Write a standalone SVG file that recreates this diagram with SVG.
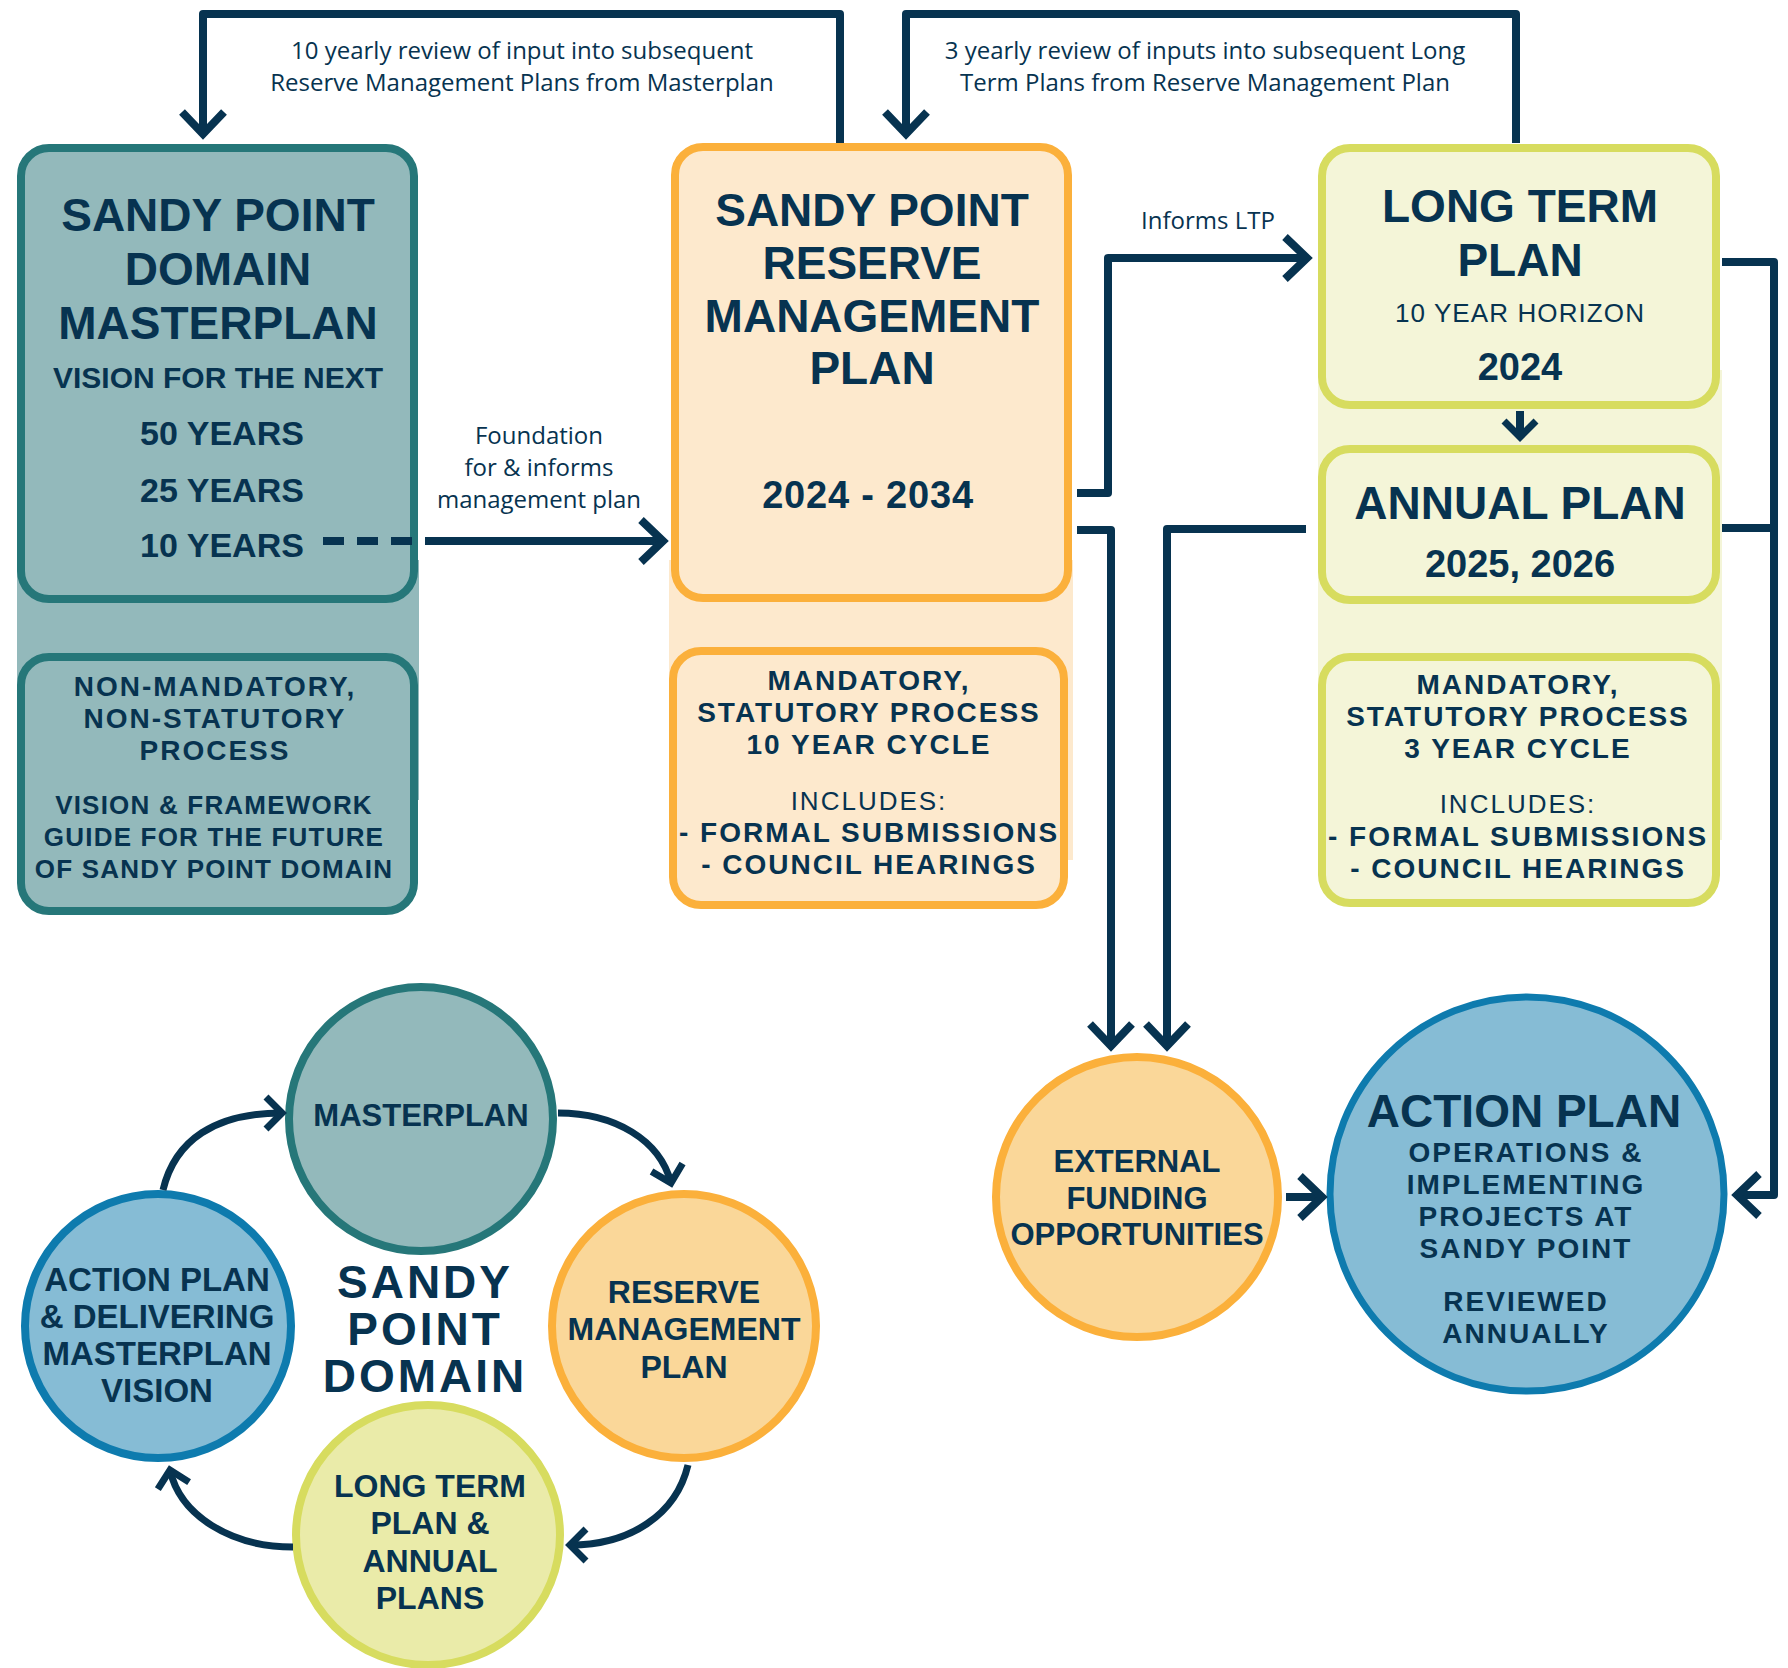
<svg xmlns="http://www.w3.org/2000/svg" width="1788" height="1668" viewBox="0 0 1788 1668">
<style>
text{fill:#073350;text-anchor:middle;font-family:"Liberation Sans",Arial,sans-serif}
.h{font-weight:bold;font-size:46px}
.sub{font-weight:bold}
.sm{font-weight:bold;font-size:28px;letter-spacing:2px}
.rg{font-weight:normal}
.lbl{font-family:"Open Sans","Liberation Sans",sans-serif;font-size:24px}
.con{fill:none;stroke:#073350;stroke-width:8;stroke-linejoin:round}
.arc{fill:none;stroke:#073350;stroke-width:7}
.tealB{fill:#93B9BB;stroke:#267779;stroke-width:8}
.oraB{fill:#FDE9CD;stroke:#FBB03B;stroke-width:8}
.grnB{fill:#F4F5D8;stroke:#D7DC5F;stroke-width:8}
</style>
<defs>
<marker id="ah" markerUnits="userSpaceOnUse" viewBox="-30 -30 60 60" markerWidth="60" markerHeight="60" refX="0" refY="0" orient="auto" overflow="visible">
<path d="M-22,-21 L0,0 L-22,21" fill="none" stroke="#073350" stroke-width="8"/>
</marker>
<marker id="ahs" markerUnits="userSpaceOnUse" viewBox="-30 -30 60 60" markerWidth="60" markerHeight="60" refX="0" refY="0" orient="auto" overflow="visible">
<path d="M-16,-16 L0,0 L-16,16" fill="none" stroke="#073350" stroke-width="7"/>
</marker>
</defs>

<!-- background columns -->
<rect x="17" y="560" width="402" height="240" fill="#93B9BB"/>
<rect x="669" y="560" width="404" height="300" fill="#FDE9CD"/>
<rect x="1318" y="370" width="404" height="470" fill="#F4F5D8"/>

<g id="masterplan-box">
<rect class="tealB" x="21" y="148" width="393" height="451" rx="28"/>
<text class="h" x="218" y="231">SANDY POINT</text>
<text class="h" x="218" y="285">DOMAIN</text>
<text class="h" x="218" y="339">MASTERPLAN</text>
<text class="sub" x="218" y="388" font-size="30">VISION FOR THE NEXT</text>
<text class="sub" x="222" y="445" font-size="34">50 YEARS</text>
<text class="sub" x="222" y="502" font-size="34">25 YEARS</text>
<text class="sub" x="222" y="557" font-size="34">10 YEARS</text>
</g>

<g id="masterplan-process">
<rect class="tealB" x="21" y="657" width="393" height="254" rx="28"/>
<text class="sm" x="215" y="696">NON-MANDATORY,</text>
<text class="sm" x="215" y="728">NON-STATUTORY</text>
<text class="sm" x="215" y="760">PROCESS</text>
<text class="sub" x="214" y="814" font-size="26" letter-spacing="1.2">VISION &amp; FRAMEWORK</text>
<text class="sub" x="214" y="846" font-size="26" letter-spacing="1.2">GUIDE FOR THE FUTURE</text>
<text class="sub" x="214" y="878" font-size="26" letter-spacing="1.2">OF SANDY POINT DOMAIN</text>
</g>

<g id="rmp-box">
<rect class="oraB" x="675" y="147" width="393" height="451" rx="28"/>
<text class="h" x="872" y="226">SANDY POINT</text>
<text class="h" x="872" y="279">RESERVE</text>
<text class="h" x="872" y="332">MANAGEMENT</text>
<text class="h" x="872" y="384">PLAN</text>
<text class="sub" x="868" y="508" font-size="38" letter-spacing="0.8">2024 - 2034</text>
</g>

<g id="rmp-process">
<rect class="oraB" x="673" y="651" width="391" height="254" rx="28"/>
<text class="sm" x="869" y="690">MANDATORY,</text>
<text class="sm" x="869" y="722">STATUTORY PROCESS</text>
<text class="sm" x="869" y="754">10 YEAR CYCLE</text>
<text class="rg" x="869" y="810" font-size="26" letter-spacing="2">INCLUDES:</text>
<text class="sm" x="869" y="842" letter-spacing="1.6">- FORMAL SUBMISSIONS</text>
<text class="sm" x="869" y="874" letter-spacing="1.6">- COUNCIL HEARINGS</text>
</g>

<g id="ltp-box">
<rect class="grnB" x="1322" y="148" width="394" height="257" rx="28"/>
<text class="h" x="1520" y="222">LONG TERM</text>
<text class="h" x="1520" y="276">PLAN</text>
<text class="rg" x="1520" y="322" font-size="26" letter-spacing="1.1">10 YEAR HORIZON</text>
<text class="sub" x="1520" y="380" font-size="38">2024</text>
</g>

<g id="annual-box">
<rect class="grnB" x="1322" y="449" width="394" height="151" rx="28"/>
<text class="h" x="1520" y="519">ANNUAL PLAN</text>
<text class="sub" x="1520" y="577" font-size="38">2025, 2026</text>
</g>

<g id="ltp-process">
<rect class="grnB" x="1322" y="657" width="394" height="246" rx="28"/>
<text class="sm" x="1518" y="694">MANDATORY,</text>
<text class="sm" x="1518" y="726">STATUTORY PROCESS</text>
<text class="sm" x="1518" y="758">3 YEAR CYCLE</text>
<text class="rg" x="1518" y="813" font-size="26" letter-spacing="2">INCLUDES:</text>
<text class="sm" x="1518" y="846" letter-spacing="1.6">- FORMAL SUBMISSIONS</text>
<text class="sm" x="1518" y="878" letter-spacing="1.6">- COUNCIL HEARINGS</text>
</g>

<g id="external-funding">
<ellipse cx="1137" cy="1197" rx="141" ry="140" fill="#FAD799" stroke="#FBB03B" stroke-width="8"/>
<text class="sub" x="1137" y="1172" font-size="31">EXTERNAL</text>
<text class="sub" x="1137" y="1209" font-size="31">FUNDING</text>
<text class="sub" x="1137" y="1245" font-size="31">OPPORTUNITIES</text>
</g>

<g id="action-plan">
<ellipse cx="1527" cy="1194" rx="197" ry="197" fill="#86BCD5" stroke="#0E7BAE" stroke-width="7"/>
<text class="h" x="1524" y="1127" font-size="47">ACTION PLAN</text>
<text class="sm" x="1526" y="1162">OPERATIONS &amp;</text>
<text class="sm" x="1526" y="1194">IMPLEMENTING</text>
<text class="sm" x="1526" y="1226">PROJECTS AT</text>
<text class="sm" x="1526" y="1258">SANDY POINT</text>
<text class="sm" x="1526" y="1311">REVIEWED</text>
<text class="sm" x="1526" y="1343">ANNUALLY</text>
</g>

<!-- cycle diagram -->
<g id="cycle-masterplan">
<ellipse cx="421" cy="1119" rx="132" ry="132" fill="#93B9BB" stroke="#267779" stroke-width="8"/>
<text class="sub" x="421" y="1126" font-size="31">MASTERPLAN</text>
</g>
<g id="cycle-rmp">
<ellipse cx="684" cy="1326" rx="132" ry="132" fill="#FAD799" stroke="#FBB03B" stroke-width="8"/>
<text class="sub" x="684" y="1303" font-size="32">RESERVE</text>
<text class="sub" x="684" y="1340" font-size="32">MANAGEMENT</text>
<text class="sub" x="684" y="1378" font-size="32">PLAN</text>
</g>
<g id="cycle-ltp">
<ellipse cx="428" cy="1535" rx="132" ry="130" fill="#EAEBA9" stroke="#D7DC5F" stroke-width="8"/>
<text class="sub" x="430" y="1497" font-size="32">LONG TERM</text>
<text class="sub" x="430" y="1534" font-size="32">PLAN &amp;</text>
<text class="sub" x="430" y="1572" font-size="32">ANNUAL</text>
<text class="sub" x="430" y="1609" font-size="32">PLANS</text>
</g>
<g id="cycle-action">
<ellipse cx="158" cy="1326" rx="133" ry="132" fill="#86BCD5" stroke="#0E7BAE" stroke-width="8"/>
<text class="sub" x="157" y="1291" font-size="33">ACTION PLAN</text>
<text class="sub" x="157" y="1328" font-size="33">&amp; DELIVERING</text>
<text class="sub" x="157" y="1365" font-size="33">MASTERPLAN</text>
<text class="sub" x="157" y="1402" font-size="33">VISION</text>
</g>
<g id="cycle-title">
<text class="h" x="425" y="1298" font-size="42" letter-spacing="3">SANDY</text>
<text class="h" x="425" y="1345" font-size="42" letter-spacing="3">POINT</text>
<text class="h" x="425" y="1392" font-size="42" letter-spacing="3">DOMAIN</text>
</g>

<g id="connectors">
<path class="con" d="M840,143 V14 H203 V134" marker-end="url(#ah)"/>
<path class="con" d="M1516,143 V14 H906 V134" marker-end="url(#ah)"/>
<path class="con" d="M323,541 H419" stroke-dasharray="21 13" stroke-linejoin="miter"/>
<path class="con" d="M425,541 H663" marker-end="url(#ah)"/>
<path class="con" d="M1077,493 H1108 V258 H1307" marker-end="url(#ah)"/>
<path class="con" d="M1077,530 H1111 V1046" marker-end="url(#ah)"/>
<path class="con" d="M1306,529 H1167 V1046" marker-end="url(#ah)"/>
<path class="con" d="M1722,262 H1774 V1195 H1737" marker-end="url(#ah)"/>
<path class="con" d="M1722,528 H1774"/>
<path class="con" d="M1520,411 V437" marker-end="url(#ahs)"/>
<path class="con" d="M1286,1197 H1322" marker-end="url(#ah)"/>
<path class="arc" d="M163,1190 C175,1140 215,1113 282,1113" marker-end="url(#ahs)"/>
<path class="arc" d="M558,1113 C615,1113 660,1140 671,1183" marker-end="url(#ahs)"/>
<path class="arc" d="M688,1465 C676,1515 630,1545 570,1545" marker-end="url(#ahs)"/>
<path class="arc" d="M293,1547 C230,1547 180,1515 170,1470" marker-end="url(#ahs)"/>
</g>

<g id="labels">
<text class="lbl" x="522" y="59">10 yearly review of input into subsequent</text>
<text class="lbl" x="522" y="91">Reserve Management Plans from Masterplan</text>
<text class="lbl" x="1205" y="59">3 yearly review of inputs into subsequent Long</text>
<text class="lbl" x="1205" y="91">Term Plans from Reserve Management Plan</text>
<text class="lbl" x="539" y="444">Foundation</text>
<text class="lbl" x="539" y="476">for &amp; informs</text>
<text class="lbl" x="539" y="508">management plan</text>
<text class="lbl" x="1208" y="229">Informs LTP</text>
</g>
</svg>
